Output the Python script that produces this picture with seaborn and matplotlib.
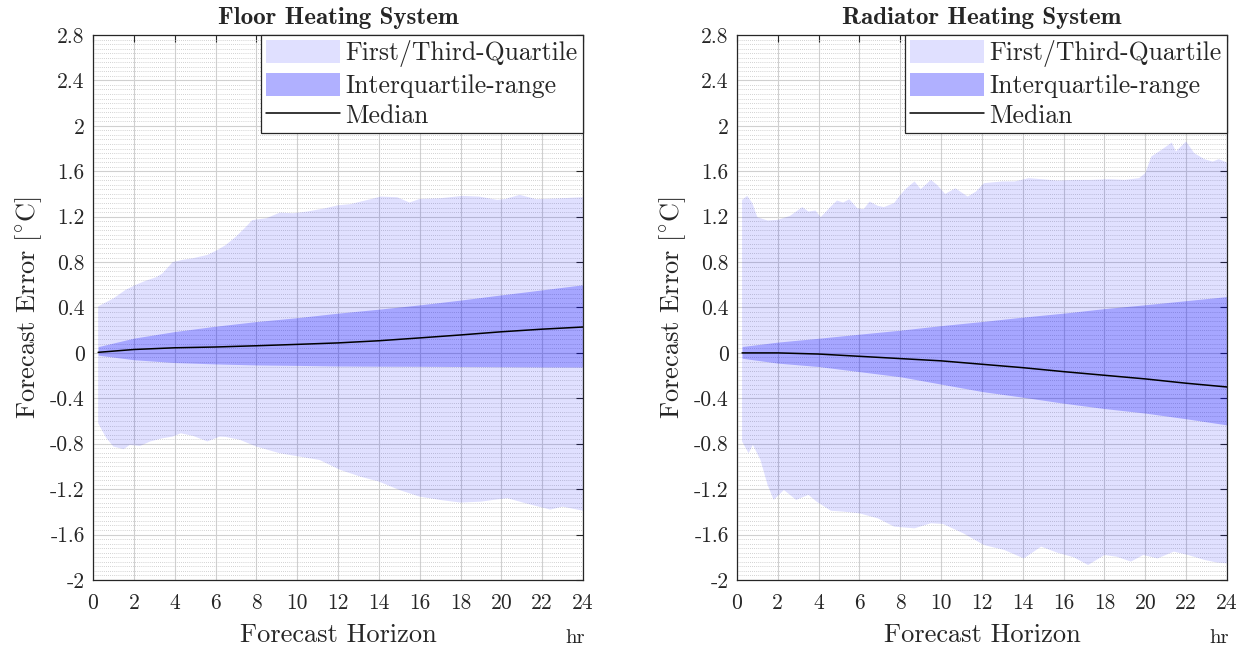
import numpy as np
import matplotlib
matplotlib.use("Agg")
import matplotlib.pyplot as plt
from matplotlib.ticker import MultipleLocator
from matplotlib.patches import Patch
from matplotlib.lines import Line2D
import seaborn as sns
import pandas as pd

# ---------------------------------------------------------------- data
# Smooth statistics (median and interquartile range), hours ahead
horizon = [0.25, 2, 4, 6, 8, 10, 12, 14, 16, 18, 20, 22, 24]

floor_iqr_hi = [0.055, 0.13, 0.188, 0.235, 0.276, 0.31, 0.35, 0.385, 0.423, 0.465, 0.511, 0.555, 0.60]
floor_iqr_lo = [-0.02, -0.06, -0.085, -0.097, -0.106, -0.11, -0.115, -0.117, -0.118, -0.12, -0.122, -0.124, -0.125]
floor_median = [0.005, 0.03, 0.045, 0.052, 0.063, 0.075, 0.088, 0.107, 0.132, 0.158, 0.186, 0.209, 0.228]

rad_iqr_hi = [0.056, 0.095, 0.129, 0.165, 0.20, 0.24, 0.276, 0.315, 0.35, 0.39, 0.424, 0.46, 0.496]
rad_iqr_lo = [-0.047, -0.09, -0.12, -0.165, -0.21, -0.275, -0.34, -0.39, -0.443, -0.49, -0.53, -0.58, -0.634]
rad_median = [0.0, 0.0, -0.01, -0.03, -0.05, -0.07, -0.10, -0.13, -0.165, -0.197, -0.229, -0.267, -0.30]

# Outer envelope (first / third quartile limits), irregular horizons
floor_hi_h = [0.25, 1.0, 1.6, 2.1, 2.6, 3.1, 3.4, 3.9, 4.4, 4.9, 5.6, 6.1, 6.5, 7.0, 7.5,
              7.8, 8.5, 9.15, 9.8, 10.5, 11.4, 12.0, 12.6, 13.6, 14.1, 14.9, 15.5, 16.0,
              17.0, 18.1, 18.9, 19.8, 20.2, 20.9, 21.7, 22.7, 24.0]
floor_hi_v = [0.41, 0.48, 0.556, 0.60, 0.637, 0.667, 0.70, 0.80, 0.82, 0.834, 0.863, 0.907,
              0.95, 1.024, 1.112, 1.17, 1.186, 1.236, 1.23, 1.245, 1.275, 1.30, 1.31, 1.354,
              1.377, 1.371, 1.324, 1.356, 1.362, 1.383, 1.377, 1.348, 1.356, 1.392, 1.354,
              1.36, 1.371]
floor_lo_h = [0.25, 0.65, 1.0, 1.5, 1.8, 2.3, 2.8, 3.4, 3.9, 4.3, 4.9, 5.6, 6.2, 6.5, 7.2,
              8.0, 9.15, 10.1, 11.1, 12.1, 13.1, 14.0, 15.0, 16.0, 17.0, 18.0, 19.0, 19.6,
              20.3, 21.2, 22.4, 23.0, 24.0]
floor_lo_v = [-0.62, -0.75, -0.825, -0.848, -0.81, -0.82, -0.78, -0.752, -0.737, -0.708,
              -0.731, -0.78, -0.737, -0.74, -0.766, -0.825, -0.884, -0.913, -0.943, -1.03,
              -1.09, -1.133, -1.207, -1.266, -1.295, -1.318, -1.31, -1.295, -1.28, -1.325,
              -1.38, -1.354, -1.39]

rad_hi_h = [0.25, 0.5, 0.75, 1.0, 1.5, 2.0, 2.6, 3.2, 3.5, 3.85, 4.1, 4.6, 4.9, 5.2, 5.5,
            5.9, 6.2, 6.5, 6.9, 7.2, 7.7, 8.0, 8.3, 8.7, 9.0, 9.5, 9.8, 10.2, 10.7, 11.3,
            11.7, 12.1, 13.0, 13.6, 14.3, 14.9, 15.7, 16.6, 17.4, 18.2, 19.0, 19.7, 20.0,
            20.3, 20.8, 21.3, 21.5, 22.0, 22.4, 22.9, 23.3, 23.6, 24.0]
rad_hi_v = [1.348, 1.383, 1.32, 1.195, 1.166, 1.172, 1.207, 1.284, 1.245, 1.254, 1.195,
            1.29, 1.342, 1.324, 1.353, 1.274, 1.266, 1.333, 1.295, 1.284, 1.32, 1.392, 1.45,
            1.51, 1.442, 1.524, 1.48, 1.40, 1.45, 1.377, 1.42, 1.495, 1.51, 1.51, 1.539,
            1.53, 1.518, 1.524, 1.524, 1.53, 1.524, 1.539, 1.583, 1.73, 1.789, 1.853, 1.774,
            1.862, 1.759, 1.706, 1.685, 1.706, 1.677]
rad_lo_h = [0.25, 0.57, 0.78, 1.15, 1.5, 1.8, 2.3, 2.9, 3.5, 3.9, 4.6, 5.2, 6.0, 6.9, 7.7,
            8.7, 9.5, 10.1, 11.1, 12.1, 13.1, 14.05, 14.9, 15.7, 16.5, 17.2, 18.0, 18.6,
            19.3, 19.9, 20.6, 21.4, 22.1, 22.9, 23.5, 24.0]
rad_lo_v = [-0.78, -0.884, -0.81, -0.943, -1.163, -1.295, -1.207, -1.295, -1.25, -1.31,
            -1.39, -1.398, -1.413, -1.457, -1.53, -1.545, -1.50, -1.507, -1.59, -1.692,
            -1.736, -1.81, -1.706, -1.76, -1.80, -1.868, -1.78, -1.795, -1.838, -1.78,
            -1.81, -1.75, -1.78, -1.823, -1.846, -1.853]

titles = ["Floor Heating System", "Radiator Heating System"]
legend_labels = ["First/Third-Quartile", "Interquartile-range", "Median"]
x_ticks = list(range(0, 25, 2))
y_ticks = [2.8, 2.4, 2.0, 1.6, 1.2, 0.8, 0.4, 0.0, -0.4, -0.8, -1.2, -1.6, -2.0]

# ---------------------------------------------------------------- style
sns.set_theme(style="white")
plt.rcParams["font.family"] = ["cmr10", "DejaVu Serif"]
plt.rcParams["mathtext.fontset"] = "cm"
plt.rcParams["axes.unicode_minus"] = False
plt.rcParams["axes.formatter.use_mathtext"] = True

OUTER = "#0000ff"
OUTER_ALPHA = 0.12
INNER_ALPHA = 0.26
INK = "#262626"

fig = plt.figure(figsize=(12.54, 6.5), dpi=100)
axes = [fig.add_axes([0.0742, 0.1077, 0.3907, 0.8385]),
        fig.add_axes([0.5877, 0.1077, 0.3907, 0.8385])]

panels = [
    (floor_hi_h, floor_hi_v, floor_lo_h, floor_lo_v, floor_iqr_hi, floor_iqr_lo, floor_median),
    (rad_hi_h, rad_hi_v, rad_lo_h, rad_lo_v, rad_iqr_hi, rad_iqr_lo, rad_median),
]

for ax, title, (hh, hv, lh, lv, qhi, qlo, med) in zip(axes, titles, panels):
    ax.set_axisbelow(True)
    # outer quartile envelope as a closed polygon
    ax.fill(np.r_[hh, lh[::-1]], np.r_[hv, lv[::-1]],
            color=OUTER, alpha=OUTER_ALPHA, lw=0, zorder=1)
    # interquartile band
    ax.fill_between(horizon, qlo, qhi, color=OUTER, alpha=INNER_ALPHA, lw=0, zorder=2)
    # median
    df = pd.DataFrame({"h": horizon, "m": med})
    sns.lineplot(data=df, x="h", y="m", ax=ax, color="black", lw=1.1, zorder=3)

    ax.set_xlim(0, 24)
    ax.set_ylim(-2, 2.8)
    ax.set_xticks(x_ticks)
    ax.set_xticklabels([str(t) for t in x_ticks])
    ax.set_yticks(y_ticks)
    ax.set_yticklabels([f"{t:g}" for t in y_ticks])
    ax.yaxis.set_minor_locator(MultipleLocator(0.04))

    ax.grid(which="major", axis="both", color="#d0d0d0", lw=0.8, ls="-")
    ax.grid(which="minor", axis="y", color="#c4c4c4", lw=0.6, ls=(0, (1, 1.5)))
    ax.tick_params(which="major", direction="in", length=5, width=0.8, color=INK,
                   top=True, right=True, labelsize=15.5, labelcolor=INK)
    ax.tick_params(axis="x", which="major", pad=10)
    ax.tick_params(axis="y", which="major", pad=6)
    ax.tick_params(which="minor", length=0)
    for s in ax.spines.values():
        s.set_color(INK)
        s.set_linewidth(0.9)

    ax.set_xlabel("Forecast Horizon", fontsize=19, labelpad=7, color=INK)
    ax.set_ylabel(r"Forecast Error [$^{\circ}$C]", fontsize=19, labelpad=4, color=INK)
    ax.set_title(title, fontsize=18, fontfamily="cmb10", pad=8)
    ax.text(0.985, -0.09, "hr", transform=ax.transAxes, ha="center", va="top",
            fontsize=15, color=INK)

    handles = [Patch(facecolor=OUTER, alpha=OUTER_ALPHA, edgecolor="none"),
               Patch(facecolor=OUTER, alpha=0.31, edgecolor="none"),
               Line2D([], [], color="black", lw=1.1)]
    leg = ax.legend(handles, legend_labels, loc="upper right", fontsize=18.5,
                    frameon=True, fancybox=False, framealpha=1, edgecolor=INK,
                    borderaxespad=0.0, borderpad=0.2, labelspacing=0.2,
                    handlelength=2.9, handleheight=1.0, handletextpad=0.2)
    leg.get_frame().set_linewidth(0.9)

fig.savefig("out.png", dpi=100)
